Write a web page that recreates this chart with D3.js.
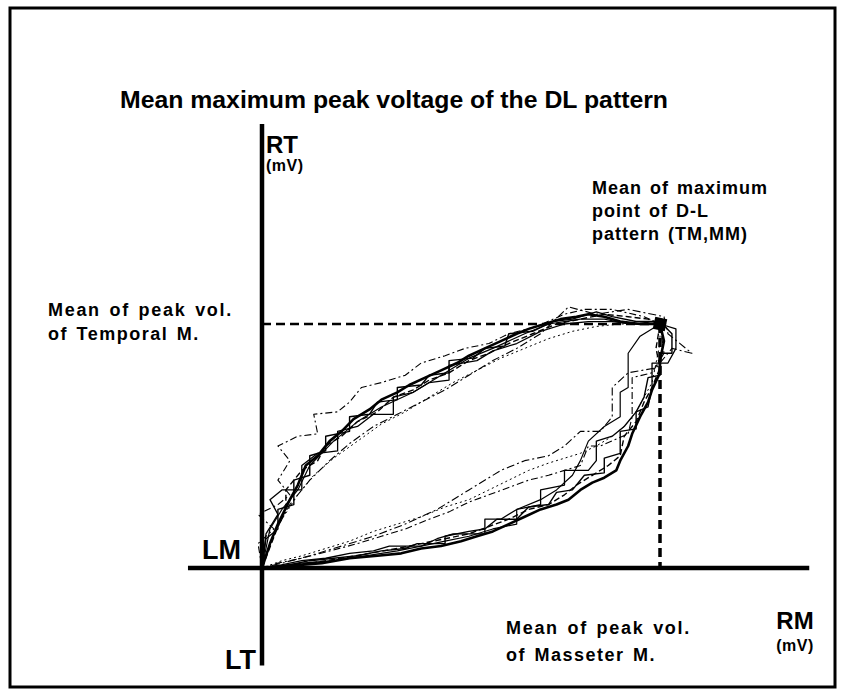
<!DOCTYPE html>
<html>
<head>
<meta charset="utf-8">
<script src="https://cdn.jsdelivr.net/npm/d3@7"></script>
<style>
  body { margin: 0; background: #fff; }
  text { font-family: "Liberation Sans", Arial, sans-serif; font-weight: bold; fill: #000; }
</style>
</head>
<body>
<div id="chart"></div>
<script>
// values: x = masseter voltage, y = temporal voltage (mean peak = 100)
var meanPeak = [100, 100];
var xAxisExtent = [-18.6, 137.5];
var yAxisExtent = [-40, 182];

// traced D-L patterns (up branch then down branch)
var trace1 = [[0,0],[2,10],[4,18],[7,28],[9,34],[11,42],[14,46],[17,52],[20,56],[23,61],[27,65],[30,69],[34,72],[37,75],[41,78],[45,81],[49,84],[52,87],[56,90],[60,93],[64,96],[67,98],[71,100],[75,102],[79,103],[82,104],[86,103],[90,101],[95,100],[100,100],
  [101,93],[100,85],[100,80],[98,73],[97,68],[95,62],[93,55],[92,50],[90,44],[89,40],[86,37],[83,35],[80,32],[77,28],[74,26],[70,24],[66,21],[62,18],[58,15],[54,13],[50,11],[45,9],[40,8],[35,6],[29,5],[22,4],[15,2],[8,1],[3,0.5],[0,0]];
var trace2 = [[0,0],[1,12],[4,16],[4,24],[8,26],[8,36],[12,38],[12,46],[16,48],[16,54],[22,56],[22,62],[27,63],[29,68],[34,69],[34,74],[40,75],[42,79],[47,80],[47,85],[53,86],[56,90],[61,91],[62,96],[68,97],[73,101],[78,102],[84,105],[88,103],[94,101],[100,101],
  [103,96],[103,88],[100,88],[100,79],[97,78],[96,70],[94,64],[94,57],[90,56],[90,47],[86,45],[86,39],[81,38],[78,32],[74,31],[72,26],[67,25],[64,20],[59,20],[56,16],[52,15],[46,13],[46,10],[39,10],[36,8],[30,7],[24,5],[18,4],[12,3],[6,1],[0,0]];
var trace3 = [[0,0],[4,17],[6,24],[6,32],[10,40],[14,44],[16,50],[20,54],[24,60],[29,64],[33,70],[38,73],[42,77],[47,80],[52,85],[57,88],[62,92],[68,96],[74,100],[80,102],[86,104],[92,103],[97,102],[100,100],
  [99,90],[100,82],[98,74],[96,68],[94,60],[91,54],[90,46],[87,42],[83,38],[79,34],[76,30],[72,26],[67,24],[62,20],[57,17],[52,14],[46,12],[40,10],[34,8],[27,6],[20,4],[12,2],[6,1],[0,0]];
var trace4 = [[0,0],[-1,10],[3,16],[-1,22],[4,26],[7,30],[4,36],[7,44],[4,50],[9,54],[14,55],[13,63],[19,64],[22,68],[25,74],[30,76],[36,79],[40,84],[46,87],[51,90],[57,92],[62,96],[69,99],[76,104],[81,106],[88,106],[96,103],[100,100],
  [101,88],[98,80],[93,78],[93,62],[92,55],[85,50],[82,50],[80,42],[76,40],[72,38],[67,36],[62,33],[57,30],[52,27],[47,23],[42,20],[36,16],[30,13],[24,10],[17,7],[10,4],[4,2],[0,0]];
var trace5 = [[0,0],[2,10],[5,20],[9,30],[13,38],[18,45],[24,52],[30,59],[36,64],[42,70],[48,76],[54,81],[60,86],[66,90],[72,94],[78,97],[84,99],[90,100],[95,100],[100,100],
  [100,92],[99,84],[98,76],[96,70],[94,64],[91,58],[88,54],[84,50],[80,47],[76,45],[72,43],[67,40],[62,36],[57,32],[52,28],[46,25],[40,21],[34,18],[28,15],[22,11],[16,8],[10,5],[5,3],[0,0]];
var trace6 = [[0,0],[1,14],[4,22],[2,28],[5,32],[10,32],[10,42],[14,47],[19,48],[19,56],[24,58],[28,63],[33,63],[33,70],[38,72],[42,76],[47,77],[47,83],[54,85],[58,89],[64,92],[70,97],[76,100],[82,101],[88,101],[94,100],[98,101],[100,100],
  [104,98],[104,90],[102,84],[98,84],[98,74],[97,66],[94,64],[91,58],[88,54],[84,52],[84,44],[82,40],[76,40],[76,34],[70,32],[70,26],[64,24],[60,20],[56,20],[56,14],[48,14],[44,12],[40,9],[32,9],[28,7],[22,6],[16,4],[10,3],[4,1],[0,0]];
var trace7 = [[0,0],[3,14],[7,26],[12,36],[17,44],[22,51],[28,58],[34,63],[40,68],[46,73],[52,79],[58,85],[64,90],[70,96],[77,107],[84,104],[92,106],[101,103],[102,96],
  [108,88],[103,90],[99,82],[92,80],[88,74],[88,62],[85,56],[80,56],[76,50],[72,46],[66,44],[60,40],[52,32],[44,24],[36,18],[28,13],[20,9],[12,5],[5,2],[0,0]];
var trace8 = [[0,0],[2,16],[5,24],[9,32],[12,42],[18,52],[24,60],[30,66],[38,72],[44,78],[52,86],[58,90],[66,96],[72,100],[80,102],[86,102],[92,100],[100,100],
  [95,95],[92,88],[92,74],[90,72],[90,62],[86,58],[82,52],[80,44],[78,38],[74,32],[70,28],[64,24],[64,18],[58,16],[52,13],[46,11],[40,9],[34,7],[26,5],[18,3],[10,2],[0,0]];

var traces = [trace1, trace2, trace3, trace4, trace5, trace6, trace7, trace8];
var traceStyle = [
  { w: 2.6, dash: null },
  { w: 1.4, dash: null },
  { w: 1.4, dash: "6,3" },
  { w: 1.1, dash: "7,3,2,3" },
  { w: 1.0, dash: "2,3" },
  { w: 1.3, dash: null },
  { w: 1.1, dash: "8,3,2,3" },
  { w: 1.2, dash: null }
];

var width = 842, height = 690;

var svg = d3.select("#chart").append("svg")
  .attr("width", width)
  .attr("height", height);

svg.append("rect")
  .attr("width", width).attr("height", height)
  .attr("fill", "#fff");

// outer frame
svg.append("rect")
  .attr("x", 10).attr("y", 8)
  .attr("width", 825).attr("height", 679)
  .attr("fill", "none")
  .attr("stroke", "#000")
  .attr("stroke-width", 3);

var x = d3.scaleLinear().domain([0, 100]).range([262, 660]);
var y = d3.scaleLinear().domain([0, 100]).range([568, 324]);

// title
svg.append("text")
  .attr("x", 120).attr("y", 108)
  .attr("textLength", 548)
  .attr("lengthAdjust", "spacingAndGlyphs")
  .style("font-size", "23px")
  .text("Mean maximum peak voltage of the DL pattern");

// traces
var line = d3.line()
  .x(function (d) { return x(d[0]); })
  .y(function (d) { return y(d[1]); });

svg.selectAll("path.trace")
  .data(traces)
  .enter().append("path")
  .attr("class", "trace")
  .attr("d", line)
  .attr("fill", "none")
  .attr("stroke", "#000")
  .attr("stroke-linejoin", "round")
  .attr("stroke-width", function (d, i) { return traceStyle[i].w; })
  .attr("stroke-dasharray", function (d, i) { return traceStyle[i].dash; });

// mean guide lines
svg.append("line")
  .attr("x1", x(0)).attr("x2", x(meanPeak[0]))
  .attr("y1", y(meanPeak[1])).attr("y2", y(meanPeak[1]))
  .attr("stroke", "#000").attr("stroke-width", 2.5)
  .attr("stroke-dasharray", "9,5");

svg.append("line")
  .attr("x1", x(meanPeak[0])).attr("x2", x(meanPeak[0]))
  .attr("y1", y(meanPeak[1])).attr("y2", y(0))
  .attr("stroke", "#000").attr("stroke-width", 3.5)
  .attr("stroke-dasharray", "9,5");

// mean maximum point
svg.append("path")
  .attr("d", d3.symbol().type(d3.symbolSquare).size(150))
  .attr("transform", "translate(" + x(meanPeak[0]) + "," + y(meanPeak[1]) + ") rotate(12)")
  .attr("fill", "#000");

// axes
svg.append("line")
  .attr("x1", x(0)).attr("x2", x(0))
  .attr("y1", y(yAxisExtent[0])).attr("y2", y(yAxisExtent[1]))
  .attr("stroke", "#000").attr("stroke-width", 4.5);

svg.append("line")
  .attr("x1", x(xAxisExtent[0])).attr("x2", x(xAxisExtent[1]))
  .attr("y1", y(0)).attr("y2", y(0))
  .attr("stroke", "#000").attr("stroke-width", 4.5);

// labels
function label(txt, px, py, size, anchor, spacing) {
  svg.append("text")
    .attr("x", px).attr("y", py)
    .attr("text-anchor", anchor || "start")
    .style("font-size", size + "px")
    .style("letter-spacing", (spacing === undefined ? 1 : spacing) + "px")
    .style("word-spacing", "2px")
    .text(txt);
}

label("RT", 266, 153, 24, "start", 0);
label("(mV)", 266, 171, 16, "start", 0.5);
label("LM", 241, 559, 27, "end", 0);
label("LT", 256, 669, 27, "end", 0);
label("RM", 795, 629, 24, "middle", 0);
label("(mV)", 795, 651, 16, "middle", 0.5);

label("Mean of peak vol.", 48, 316, 18, "start", 1.7);
label("of Temporal M.", 48, 340, 18, "start", 1.5);

label("Mean of peak vol.", 506, 634, 18, "start", 1.7);
label("of Masseter M.", 506, 661, 18, "start", 1.5);

label("Mean of maximum", 592, 194, 18);
label("point of D-L", 592, 217, 18);
label("pattern (TM,MM)", 592, 240, 18);
</script>
</body>
</html>
